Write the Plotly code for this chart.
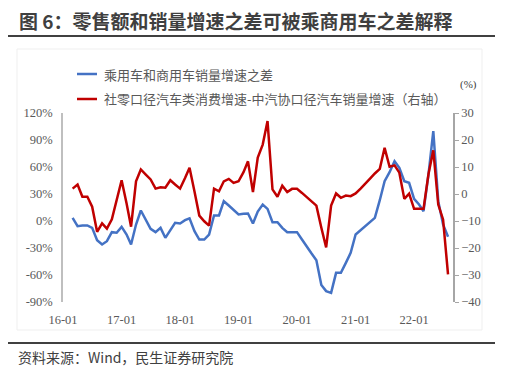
import pandas as pd
import plotly.graph_objects as go

# ---- data ----
months = pd.date_range("2016-03-01", periods=78, freq="MS")

blue_diff = [3.5, -5.7, -5.0, -5.0, -7.6, -21.3, -26.1, -22.4, -12.4, -13.1,
             -6.5, -15.0, -26.1, -3.9, 11.7, 1.7, -8.7, -12.4, -7.6, -18.7,
             -10.0, -2.0, -2.8, 0.9, 3.0, -11.3, -20.6, -20.6, -15.0, 6.1,
             6.1, 22.0, 17.2, 12.0, 7.2, 8.0, 8.3, -2.8, 10.5, 18.3,
             13.5, -1.3, -1.3, -7.6, -12.4, -12.4, -12.4, -20.6, -28.7, -36.1,
             -43.5, -71.0, -77.9, -79.8, -57.6, -57.6, -46.5, -35.4, -15.0, -10.2,
             -5.7, -0.9, 3.5, 23.1, 44.2, 54.2, 66.4, 59.1, 44.2, 42.4,
             24.7, 18.3, 10.9, 51.7, 99.8, 22.0, -3.9, -17.6]

red_diff = [2.0, 3.5, -1.0, -1.0, -4.7, -14.0, -10.9, -12.8, -9.4, -2.1,
            5.1, -3.5, -12.1, 4.7, 9.1, 7.2, 5.4, 2.0, 2.5, 2.3,
            5.1, 3.5, 2.0, 5.9, 9.7, 0.9, -8.0, -10.1, -11.7, 2.0,
            1.0, 4.7, 5.6, 4.1, 4.7, 8.1, 12.1, 0.7, 13.5, 18.3,
            27.0, 1.7, -1.0, 3.1, 0.7, 1.9, 1.9, 0.4, -1.0, -2.7,
            -4.3, -12.5, -19.8, -4.3, 0.2, -1.4, -0.6, -0.8, 0.2, 2.0,
            3.9, 5.7, 7.6, 9.3, 17.1, 10.1, 10.6, 7.9, -1.8, 0.1,
            -5.5, -5.5, -5.5, 7.4, 16.2, -3.9, -9.4, -29.8]

blue_name = "乘用车和商用车销量增速之差"
red_name = "社零口径汽车类消费增速-中汽协口径汽车销量增速（右轴）"
title_text = "图 6：零售额和销量增速之差可被乘商用车之差解释"
source_text = "资料来源：Wind，民生证券研究院"

left_ticks = [-90, -60, -30, 0, 30, 60, 90, 120]
left_labels = ["-90%", "-60%", "-30%", "0%", "30%", "60%", "90%", "120%"]
right_ticks = [-40, -30, -20, -10, 0, 10, 20, 30]
year_ticks = ["2016-01-01", "2017-01-01", "2018-01-01", "2019-01-01",
              "2020-01-01", "2021-01-01", "2022-01-01"]
year_labels = ["16-01", "17-01", "18-01", "19-01", "20-01", "21-01", "22-01"]

BLUE, RED = "#4472C4", "#C00000"

# ---- geometry helpers (pixel -> paper) ----
W, H = 527, 377
L, R, T, B = 63, 453, 113, 302
def px(x):
    return (x - L) / (R - L)
def py(y):
    return (B - y) / (B - T)

serif = "Liberation Serif, serif"
cjk = "Noto Sans CJK SC"
grey = "#595959"

fig = go.Figure()
fig.add_trace(go.Scatter(x=months, y=blue_diff, name=blue_name, mode="lines",
                         line=dict(color=BLUE, width=2.5)))
fig.add_trace(go.Scatter(x=months, y=red_diff, name=red_name, mode="lines",
                         line=dict(color=RED, width=2.5), yaxis="y2"))

fig.update_layout(
    width=W, height=H,
    margin=dict(l=L, r=W - R, t=T, b=H - B, pad=0),
    paper_bgcolor="white", plot_bgcolor="white",
    showlegend=False,
    xaxis=dict(type="date", range=["2016-01-01", "2022-09-01"],
               tickvals=year_ticks, ticktext=year_labels,
               showgrid=False, zeroline=False, showline=False,
               ticks="", ticklabelstandoff=8,
               tickfont=dict(family=serif, size=12.5, color=grey)),
    xaxis2=dict(type="date", range=["2016-01-01", "2022-09-01"], overlaying="x",
                anchor="free", position=90 / 210, showticklabels=False,
                tickvals=year_ticks,
                ticks="outside", ticklen=3, tickcolor="#D9D9D9",
                showline=True, linecolor="#D9D9D9", linewidth=1, showgrid=False),
    yaxis=dict(range=[-90, 120], tickvals=left_ticks, ticktext=left_labels,
               showgrid=False, zeroline=False, showline=True,
               linecolor="#BFBFBF", linewidth=1.5, ticks="",
               tickfont=dict(family=serif, size=12.5, color=grey), ticklabelstandoff=6),
    yaxis2=dict(range=[-40, 30], tickvals=right_ticks, overlaying="y", side="right",
                showgrid=False, zeroline=False, showline=True,
                linecolor="#A6A6A6", linewidth=1.5, ticks="outside", ticklen=4,
                tickcolor="#A6A6A6",
                tickfont=dict(family=serif, size=12.5, color=grey)),
)

# chart-area frame, title rules
fig.add_shape(type="rect", xref="paper", yref="paper",
              x0=px(17), x1=px(482), y0=py(330), y1=py(49),
              line=dict(color="#EFEFEF", width=1), layer="below")
fig.add_shape(type="line", xref="paper", yref="paper",
              x0=px(8), x1=px(495), y0=py(36), y1=py(36),
              line=dict(color="#404040", width=2))
fig.add_shape(type="line", xref="paper", yref="paper",
              x0=px(8), x1=px(495), y0=py(343), y1=py(343),
              line=dict(color="#404040", width=2))

# legend (drawn by hand for exact placement)
for name, color, yy in [(blue_name, BLUE, 74), (red_name, RED, 99)]:
    fig.add_shape(type="line", xref="paper", yref="paper",
                  x0=px(77), x1=px(97), y0=py(yy), y1=py(yy),
                  line=dict(color=color, width=2.5))
    fig.add_annotation(text=name, xref="paper", yref="paper",
                       x=px(102), y=py(yy), xanchor="left", yanchor="middle",
                       showarrow=False, font=dict(family=cjk, size=13, color=grey))

fig.add_annotation(text="<b>" + title_text + "</b>", xref="paper", yref="paper",
                   x=px(17), y=py(20), xanchor="left", yanchor="middle", showarrow=False,
                   font=dict(family=cjk, size=19, color="#3F3F3F"))
fig.add_annotation(text=source_text, xref="paper", yref="paper",
                   x=px(16), y=py(357), xanchor="left", yanchor="middle", showarrow=False,
                   font=dict(family=cjk, size=14, color="#404040"))
fig.add_annotation(text="(%)", xref="paper", yref="paper",
                   x=px(468), y=py(84), xanchor="center", yanchor="middle", showarrow=False,
                   font=dict(family=serif, size=11, color="#404040"))

fig.write_html("out.html", config={"displayModeBar": False},
               post_script="document.body.style.margin='0';document.body.style.overflow='hidden';")
